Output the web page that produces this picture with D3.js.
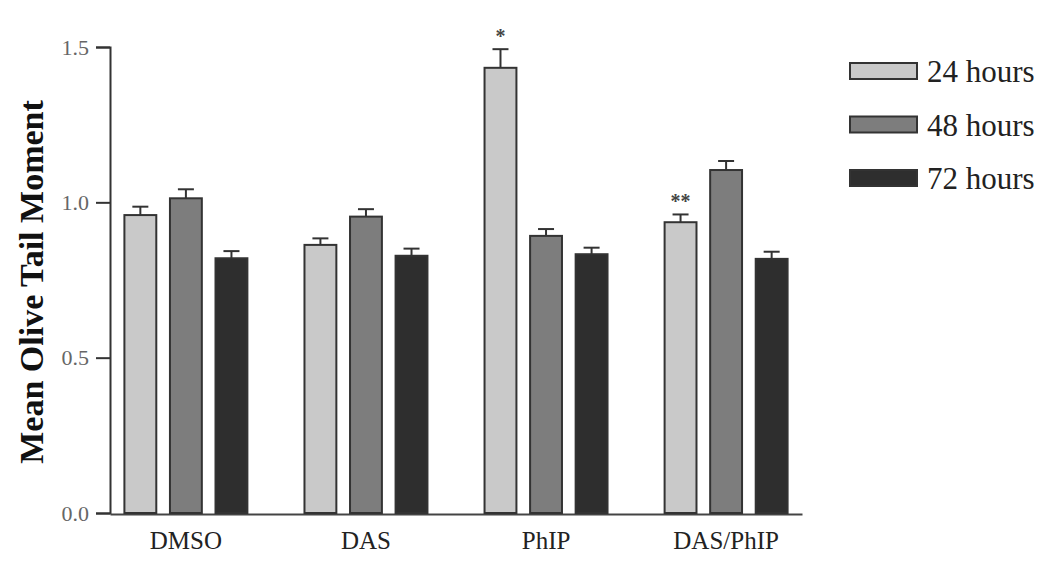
<!DOCTYPE html>
<html>
<head>
<meta charset="utf-8">
<script src="https://cdn.jsdelivr.net/npm/d3@7"></script>
<style>
  body { margin: 0; background: #fff; }
  svg { display: block; }
</style>
</head>
<body>
<div id="chart"></div>
<script>
// # Data
const groups = ['DMSO', 'DAS', 'PhIP', 'DAS/PhIP']
const seriesNames = ['24 hours', '48 hours', '72 hours']
const means = [
  [0.959, 1.013, 0.820],
  [0.863, 0.954, 0.828],
  [1.433, 0.892, 0.833],
  [0.936, 1.104, 0.818]
]
const errors = [
  [0.027, 0.029, 0.023],
  [0.021, 0.024, 0.023],
  [0.060, 0.022, 0.021],
  [0.025, 0.029, 0.023]
]
// # Significance marks: [group, series, label]
const marks = [['PhIP', 0, '*'], ['DAS/PhIP', 0, '**']]
const yTicks = [0, 0.5, 1.0, 1.5]

// # Style
const colors = ['#c9c9c9', '#7d7d7d', '#2e2e2e']
const strokeColor = '#333333'
const serif = '"Liberation Serif", "Times New Roman", serif'

const width = 1050, height = 562
const svg = d3.select('#chart').append('svg')
  .attr('width', width)
  .attr('height', height)

const x0 = d3.scaleBand()
  .domain(groups)
  .range([110, 802])
  .paddingInner(0.317)
  .paddingOuter(0.08)

const x1 = d3.scaleBand()
  .domain(d3.range(seriesNames.length))
  .range([0, x0.bandwidth()])
  .paddingInner(0.3)

const y = d3.scaleLinear().domain([0, 1.5]).range([513, 47])

// # Y axis
const yAxis = svg.append('g')
  .attr('transform', 'translate(110,0)')
  .call(d3.axisLeft(y).tickValues(yTicks).tickFormat(d3.format('.1f')).tickSize(14).tickPadding(7))
yAxis.select('.domain').attr('stroke', '#333').attr('stroke-width', 2)
yAxis.selectAll('.tick line').attr('stroke', '#333').attr('stroke-width', 2)
yAxis.selectAll('.tick text')
  .attr('font-family', serif)
  .attr('font-size', 22)
  .attr('fill', '#666')

// # X axis (baseline only, labels under groups)
const xAxis = svg.append('g')
  .attr('transform', 'translate(0,514)')
  .call(d3.axisBottom(x0).tickSize(0).tickPadding(17))
xAxis.select('.domain').attr('stroke', '#444').attr('stroke-width', 2)
xAxis.selectAll('.tick text')
  .attr('font-family', serif)
  .attr('font-size', 25)
  .attr('fill', '#222')

// # Bars
const flat = []
groups.forEach((g, gi) => {
  seriesNames.forEach((s, si) => {
    flat.push({group: g, si: si, value: means[gi][si], err: errors[gi][si]})
  })
})

const barG = svg.append('g').attr('class', 'bars')
barG.selectAll('rect')
  .data(flat)
  .enter().append('rect')
  .attr('x', d => x0(d.group) + x1(d.si))
  .attr('y', d => y(d.value))
  .attr('width', x1.bandwidth())
  .attr('height', d => y(0) - y(d.value))
  .attr('fill', d => colors[d.si])
  .attr('stroke', strokeColor)
  .attr('stroke-width', 2)

// # Error bars (upper only)
const capHalf = 8
const errG = svg.append('g').attr('class', 'errors')
  .attr('stroke', strokeColor)
  .attr('stroke-width', 2)
errG.selectAll('line.v')
  .data(flat)
  .enter().append('line')
  .attr('class', 'v')
  .attr('x1', d => x0(d.group) + x1(d.si) + x1.bandwidth() / 2)
  .attr('x2', d => x0(d.group) + x1(d.si) + x1.bandwidth() / 2)
  .attr('y1', d => y(d.value))
  .attr('y2', d => y(d.value + d.err))
errG.selectAll('line.cap')
  .data(flat)
  .enter().append('line')
  .attr('class', 'cap')
  .attr('x1', d => x0(d.group) + x1(d.si) + x1.bandwidth() / 2 - capHalf)
  .attr('x2', d => x0(d.group) + x1(d.si) + x1.bandwidth() / 2 + capHalf)
  .attr('y1', d => y(d.value + d.err))
  .attr('y2', d => y(d.value + d.err))

// # Significance asterisks
svg.append('g').selectAll('text')
  .data(marks)
  .enter().append('text')
  .attr('x', d => x0(d[0]) + x1(d[1]) + x1.bandwidth() / 2)
  .attr('y', d => {
    const gi = groups.indexOf(d[0])
    return y(means[gi][d[1]] + errors[gi][d[1]]) - 6
  })
  .attr('text-anchor', 'middle')
  .attr('font-family', serif)
  .attr('font-weight', 'bold')
  .attr('font-size', 20)
  .attr('fill', '#444')
  .text(d => d[2])

// # Y label
svg.append('text')
  .attr('transform', 'translate(43,282) rotate(-90)')
  .attr('text-anchor', 'middle')
  .attr('font-family', serif)
  .attr('font-weight', 'bold')
  .attr('font-size', 34)
  .attr('fill', '#111')
  .text('Mean Olive Tail Moment')

// # Legend
const legend = svg.append('g').attr('transform', 'translate(850,63)')
const item = legend.selectAll('g')
  .data(seriesNames)
  .enter().append('g')
  .attr('transform', (d, i) => 'translate(0,' + (i * 53.5) + ')')
item.append('rect')
  .attr('width', 67)
  .attr('height', 16)
  .attr('fill', (d, i) => colors[i])
  .attr('stroke', strokeColor)
  .attr('stroke-width', 2)
item.append('text')
  .attr('x', 77)
  .attr('y', 19)
  .attr('font-family', serif)
  .attr('font-size', 31)
  .attr('fill', '#222')
  .text(d => d)
</script>
</body>
</html>
